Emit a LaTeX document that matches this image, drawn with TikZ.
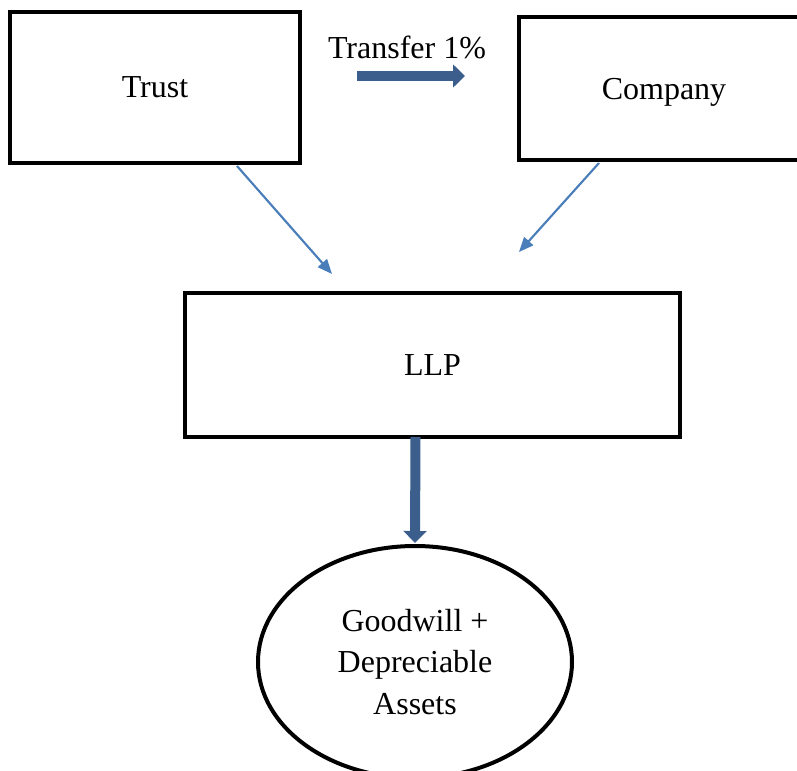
\documentclass[tikz,border=0pt]{standalone}
\usepackage{fontspec}
\setmainfont{Liberation Serif}
\usepackage{tikz}
\usetikzlibrary{arrows.meta,shapes.geometric}
\definecolor{flowblue}{HTML}{3B5E8C}
\definecolor{lineblue}{HTML}{4A7EBB}
\tikzset{
  box/.style={draw,line width=3pt,rectangle,inner sep=0pt,outer sep=0pt,text depth=0pt,font=\fontsize{24}{31}\selectfont},
  pool/.style={draw,line width=3pt,ellipse,inner sep=0pt,outer sep=0pt,align=center,font=\fontsize{24}{31}\selectfont},
  thinarrow/.style={lineblue,line width=1.6pt,-{Triangle[length=11pt,width=9pt]}},
  fatarrow/.style={flowblue,line width=7.5pt,-{Triangle[length=9pt,width=17pt]}}
}

\begin{document}
\begin{tikzpicture}[x=0.75pt,y=-0.75pt]
      \useasboundingbox (0,0) rectangle (797,771);
      \node[box,minimum width=217.5pt,minimum height=113.25pt] (trust) at (155,87.5) {Trust};
      \node[box,minimum width=217.5pt,minimum height=107.25pt] (company) at (664,88.5) {Company};
      \node[box,minimum width=371.25pt,minimum height=108pt] (llp) at (432.5,365) {LLP};
      \node[pool,minimum width=235.5pt,minimum height=174pt] (assets) at (415,662) {Goodwill +\\Depreciable\\Assets};
      \node[font=\fontsize{24}{31}\selectfont] (transfer) at (407,47) {Transfer 1\%};
      \coordinate (tin) at (332,274);
      \coordinate (cin) at (519,252);
      \draw[thinarrow] ([shift={(82,3)}]trust.south) -- (tin);
      \draw[thinarrow] ([shift={(-65,3)}]company.south) -- (cin);
      \draw[fatarrow] (357,76) -- (465,76);
      \draw[fatarrow] ([xshift=-12.75pt]llp.south) -- ([shift={(0,-3)}]assets.north);
    \end{tikzpicture}
\end{document}
